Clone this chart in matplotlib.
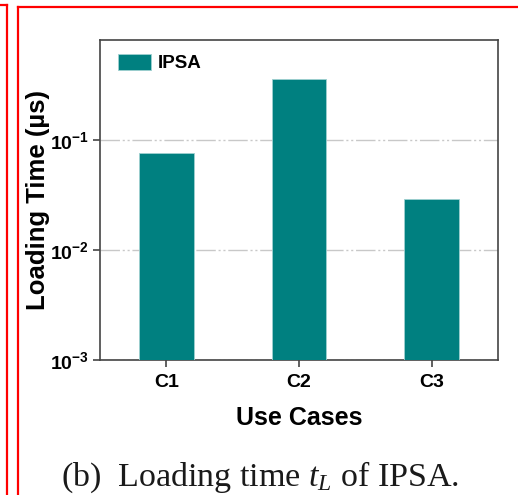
import math
import matplotlib
matplotlib.use("Agg")
import matplotlib.pyplot as plt
from matplotlib.lines import Line2D
from matplotlib.ticker import FixedLocator, FuncFormatter, NullLocator

# data
cases = ["C1", "C2", "C3"]
loading_time = [0.0746, 0.359, 0.0279]  # microseconds
series_name = "IPSA"

plt.rcParams["font.family"] = "Liberation Sans"
plt.rcParams["mathtext.fontset"] = "custom"
plt.rcParams["mathtext.bf"] = "Liberation Sans:bold"
plt.rcParams["mathtext.rm"] = "Liberation Serif"
plt.rcParams["mathtext.it"] = "Liberation Serif:italic"

fig = plt.figure(figsize=(5.18, 4.95), dpi=100)
ax = fig.add_axes([100 / 518, 135 / 495, 398 / 518, 320 / 495])

x = range(len(cases))
ax.bar(x, loading_time, width=0.41, bottom=1e-3, color="#008080",
       edgecolor="#9fd0d0", linewidth=0.6, label=series_name, zorder=3)

ax.set_yscale("log")
ax.set_ylim(1e-3, 0.81)
ax.set_xlim(-0.5, 2.5)
ax.yaxis.set_major_locator(FixedLocator([1e-3, 1e-2, 1e-1]))
ax.yaxis.set_minor_locator(NullLocator())
ax.yaxis.set_major_formatter(FuncFormatter(
    lambda v, p: r"$\mathbf{10^{%d}}$" % round(math.log10(v))))
ax.set_xticks(list(x))
ax.set_xticklabels(cases, fontweight="bold")

ax.tick_params(axis="both", direction="out", length=5, width=1.2,
               color="#444444", labelsize=14, pad=3)
ax.tick_params(axis="x", pad=5)
for s in ax.spines.values():
    s.set_color("#444444")
    s.set_linewidth(1.2)

ax.set_axisbelow(True)
ax.yaxis.grid(True, color="#c8c8c8", linewidth=1,
              linestyle=(0, (14, 2, 1.5, 2, 1.5, 2)))

ax.set_xlabel("Use Cases", fontsize=18, fontweight="bold")
ax.set_ylabel("Loading Time (µs)", fontsize=18.5, fontweight="bold")
ax.xaxis.set_label_coords(0.5, -0.145)
ax.yaxis.set_label_coords(-0.125, 0.5)

leg = ax.legend(loc="upper left", frameon=False,
                prop={"size": 13.5, "weight": "bold"},
                handlelength=1.75, handleheight=0.9, handletextpad=0.4,
                borderaxespad=0.3, bbox_to_anchor=(0.012, 0.997))

# caption under the chart
fig.text(260 / 518, 9 / 495, r"(b)  Loading time $t_L$ of IPSA.",
         fontsize=24.5, family="Liberation Serif",
         ha="center", va="baseline", color="#1a1a1a")

# red frame lines from the screenshot
W, H = 518, 495
red = dict(color="#ff0000", linewidth=1.6, transform=fig.transFigure)
fig.add_artist(Line2D([7 / W, 7 / W], [0, 1 - 5 / H], **red))
fig.add_artist(Line2D([0, 7 / W], [1 - 5 / H, 1 - 5 / H], **red))
fig.add_artist(Line2D([17.5 / W, 17.5 / W], [0, 1 - 6.5 / H], **red))
fig.add_artist(Line2D([17.5 / W, 1], [1 - 6.5 / H, 1 - 6.5 / H], **red))

fig.savefig("out.png", dpi=100)
